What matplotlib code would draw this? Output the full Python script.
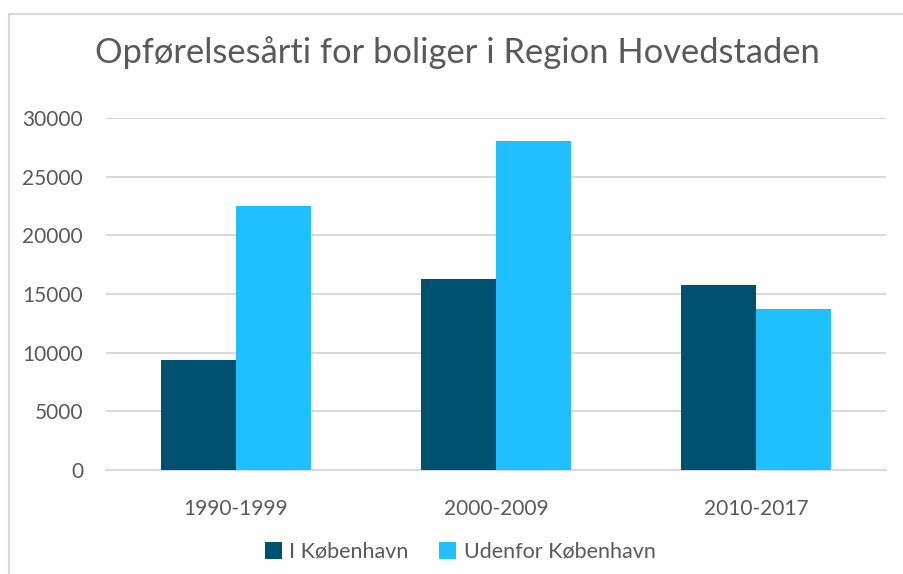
import matplotlib.pyplot as plt
from matplotlib.patches import Rectangle
import numpy as np

categories = ['1990-1999', '2000-2009', '2010-2017']
i_kbh = [9400, 16300, 15800]
udenfor_kbh = [22500, 28000, 13750]
series_names = ['I København', 'Udenfor København']

DARK = '#00506F'
LIGHT = '#20BFFF'
TXT = '#595959'
GRID = '#D9D9D9'

plt.rcParams['font.family'] = ['Lato', 'DejaVu Sans']

W, H = 904, 574
fig = plt.figure(figsize=(W / 100, H / 100), dpi=100)
ax = fig.add_axes([106 / W, 1 - 470 / H, 780 / W, 352 / H])

x = np.arange(len(categories))
bw = 0.288
ax.bar(x - bw / 2, i_kbh, bw, color=DARK, label=series_names[0], zorder=3)
ax.bar(x + bw / 2, udenfor_kbh, bw, color=LIGHT, label=series_names[1], zorder=3)

ax.set_xlim(-0.5, 2.5)
ax.set_ylim(0, 30000)
ax.set_yticks(range(0, 30001, 5000))
ax.set_xticks(x)
ax.set_xticklabels(categories)
ax.grid(axis='y', color=GRID, linewidth=1.5, zorder=0)
for s in ['top', 'right', 'left']:
    ax.spines[s].set_visible(False)
ax.spines['bottom'].set_color(GRID)
ax.spines['bottom'].set_linewidth(1.5)
ax.tick_params(length=0, labelsize=15, colors=TXT)
ax.tick_params(axis='y', pad=16.5)
ax.tick_params(axis='x', pad=21)

fig.text(457 / W, 1 - 53 / H, 'Opførelsesårti for boliger i Region Hovedstaden',
         ha='center', va='center', fontsize=24.8, color=TXT)

leg = fig.legend(loc='center', bbox_to_anchor=(460 / W, 1 - 552 / H), ncol=2,
                 frameon=False, fontsize=15.5, handlelength=0.8, handleheight=0.8,
                 handletextpad=0.35, columnspacing=1.4)
for t in leg.get_texts():
    t.set_color(TXT)

# chart frame
fig.patches.append(Rectangle((9 / W, -0.1), 1.2, 1 - 14 / H + 0.1, transform=fig.transFigure,
                             fill=False, edgecolor='#D9D9D9', linewidth=1.5))

fig.savefig('out.png', dpi=100)
